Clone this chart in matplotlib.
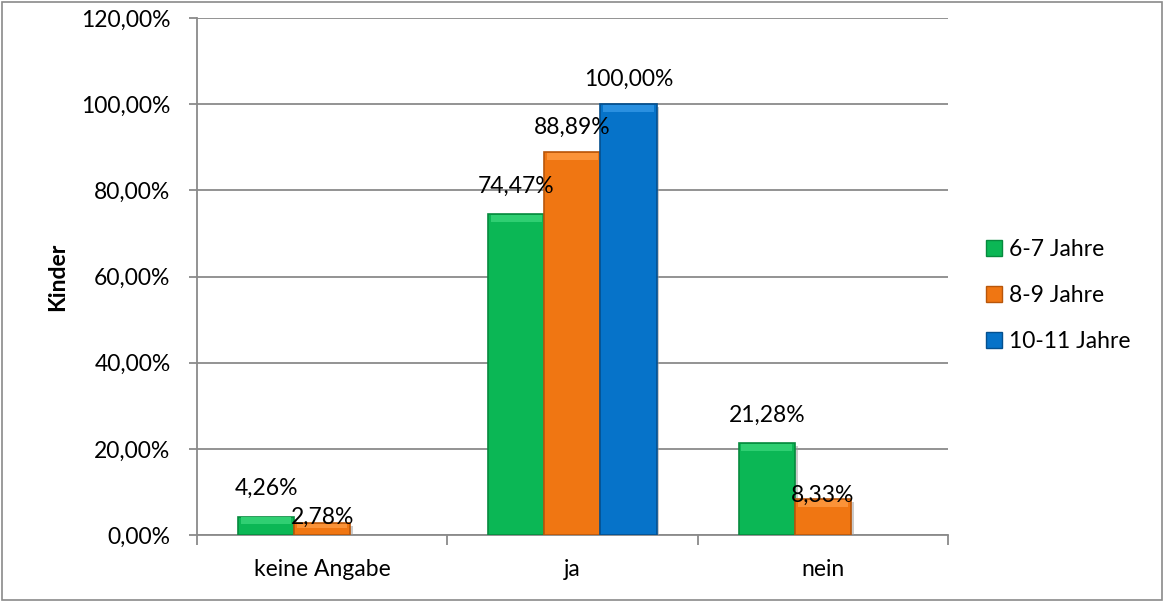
import matplotlib.pyplot as plt
import matplotlib.patheffects as pe
from matplotlib.patches import Rectangle, Patch
from matplotlib.ticker import FuncFormatter
import numpy as np

plt.rcParams['font.family'] = ['Lato', 'DejaVu Sans']

categories = ["keine Angabe", "ja", "nein"]
series = ["6-7 Jahre", "8-9 Jahre", "10-11 Jahre"]
werte_6_7 = [4.26, 74.47, 21.28]
werte_8_9 = [2.78, 88.89, 8.33]
werte_10_11 = [0.0, 100.00, 0.0]
yticks = [0, 20, 40, 60, 80, 100, 120]

colors = ["#0bb755", "#f07612", "#0673c9"]
edges = ["#078a3e", "#b8560a", "#04508f"]
lights = ["#2fcf72", "#fb9338", "#2a90e0"]
# Abstand der Beschriftung ueber dem Balken (Pixel), wie im Original ungleich
label_offsets = [[-28, -28, -28], [-6, -25, -4], [-25, -25, -25]]

fig = plt.figure(figsize=(11.64, 6.01), dpi=100)
ax = fig.add_axes([0.1692, 0.1098, 0.6452, 0.8602])

x = np.arange(len(categories))
w = 0.224
fs = 16.5
data = [werte_6_7, werte_8_9, werte_10_11]

for i, vals in enumerate(data):
    pos = x + (i - 1) * w
    for xp, v, off in zip(pos, vals, label_offsets[i]):
        if v <= 0:
            continue
        ax.bar(xp, v, w, color=colors[i], edgecolor=edges[i], linewidth=1.2, zorder=3,
               path_effects=[pe.SimplePatchShadow(offset=(2, -2), shadow_rgbFace="#999999", alpha=0.5), pe.Normal()])
        h = min(1.6, v * 0.35)
        ax.bar(xp, h, w * 0.9, bottom=v - h - 0.15, color=lights[i], linewidth=0, zorder=4)
        ax.annotate(f"{v:.2f}%".replace(".", ","), (xp, v), xytext=(0, -off * 0.72),
                    textcoords="offset points", ha="center", va="center", fontsize=fs, zorder=5)

ax.set_ylim(0, 120)
ax.set_xlim(-0.5, 2.5)
ax.set_yticks(yticks)
ax.yaxis.set_major_formatter(FuncFormatter(lambda v, p: f"{v:.2f}%".replace(".", ",")))
ax.yaxis.grid(True, color="#8a8a8a", linewidth=1.3, zorder=0)
ax.set_axisbelow(True)
ax.tick_params(axis="y", length=6, width=1.3, color="#8a8a8a", pad=13, labelsize=fs)

ax.set_xticks(x)
ax.set_xticklabels(categories, fontsize=fs)
ax.tick_params(axis="x", length=0, pad=17)
ax.set_xticks([-0.5, 0.5, 1.5, 2.5], minor=True)
ax.tick_params(axis="x", which="minor", length=7, width=1.3, color="#8a8a8a")

for s in ["top", "right"]:
    ax.spines[s].set_visible(False)
for s in ["left", "bottom"]:
    ax.spines[s].set_color("#8a8a8a")
    ax.spines[s].set_linewidth(1.3)

ax.set_ylabel("Kinder", fontsize=fs, fontweight="bold", labelpad=9)

handles = [Patch(facecolor=c, edgecolor=e, linewidth=1) for c, e in zip(colors, edges)]
fig.legend(handles, series, loc="center left", bbox_to_anchor=(0.847, 0.508), frameon=False,
           fontsize=fs, handlelength=0.7, handleheight=0.7, handletextpad=0.3, labelspacing=1.1,
           borderpad=0, borderaxespad=0)

fig.patches.append(Rectangle((0.002, 0.002), 0.996, 0.995, transform=fig.transFigure,
                             fill=False, edgecolor="#8a8a8a", linewidth=1.2))

plt.savefig("out.png", dpi=100)
plt.close()
